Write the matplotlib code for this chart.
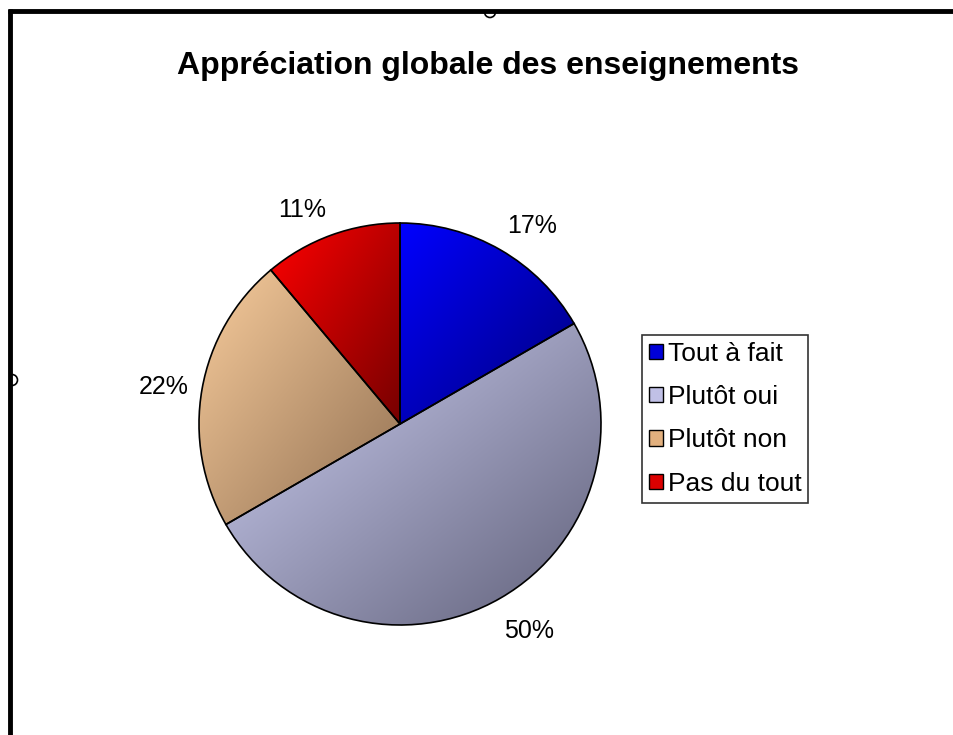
import numpy as np
import matplotlib.pyplot as plt
from matplotlib.patches import Patch, Arc
from matplotlib.colors import to_rgb

categories = ['Tout à fait', 'Plutôt oui', 'Plutôt non', 'Pas du tout']
counts = [3, 9, 4, 2]
light_colors = ['#0000ff', '#d0d2f6', '#f8cc9c', '#ff0000']
dark_colors = ['#00007a', '#606079', '#917052', '#760000']
legend_colors = ['#0000d8', '#c0c0e6', '#e2b07e', '#dc0000']
title = 'Appréciation globale des enseignements'

plt.rcParams['font.family'] = ['Liberation Sans', 'DejaVu Sans']

W, H = 954, 735
fig = plt.figure(figsize=(W / 100, H / 100), dpi=100)
ax = fig.add_axes([0, 0, 1, 1])

cx, cy, r = 400, H - 424, 201


def gradient_fill(ax, wedge, c1, c2, n=200):
    # diagonal gradient, light top-left to dark bottom-right, clipped to the wedge
    ext = wedge.get_path().get_extents()
    u = np.linspace(0, 1, n)
    t = (u[None, :] + u[:, None]) / 2
    a, b = np.array(to_rgb(c1)), np.array(to_rgb(c2))
    img = a + (b - a) * t[..., None]
    im = ax.imshow(img, extent=[ext.x0, ext.x1, ext.y0, ext.y1], origin='upper',
                   interpolation='bilinear', zorder=1)
    im.set_clip_path(wedge)


wedges, texts, autotexts = ax.pie(
    counts, center=(cx, cy), radius=r, startangle=90, counterclock=False,
    colors=light_colors, autopct='%1.0f%%', pctdistance=1.0,
    wedgeprops=dict(edgecolor='black', linewidth=1.2, zorder=2, fill=False),
    textprops=dict(fontsize=18, color='black'))

# Excel style labels: anchored just outside the rim, aligned away from the pie
for w, t in zip(wedges, autotexts):
    ang = np.deg2rad((w.theta1 + w.theta2) / 2)
    c, s = np.cos(ang), np.sin(ang)
    d = r + (24 if s < -0.5 else 14)
    t.set_position((cx + d * c - (8 if s < -0.5 else 0), cy + d * s))
    t.set_ha('left' if c > 0 else 'right')
    t.set_va('center' if abs(s) < 0.5 else ('bottom' if s > 0 else 'top'))

for w, c1, c2 in zip(wedges, light_colors, dark_colors):
    gradient_fill(ax, w, c1, c2)

# frame lines and selection handles like the original screenshot
ax.plot([8, W], [H - 11, H - 11], color='black', lw=3.5, solid_capstyle='butt', zorder=5)
ax.plot([10, 10], [0, H - 9], color='black', lw=3.5, solid_capstyle='butt', zorder=5)
ax.add_patch(Arc((490, H - 12), 11, 11, theta1=180, theta2=360, color='black', lw=1.2, zorder=6))
ax.add_patch(Arc((12, H - 380), 11, 11, theta1=-90, theta2=90, color='black', lw=1.2, zorder=6))

fig.text(488 / W, 1 - 66 / H, title, ha='center', va='center',
         fontsize=23, fontweight='bold')

handles = [Patch(facecolor=c, edgecolor='black', linewidth=1) for c in legend_colors]
leg = ax.legend(handles, categories, loc='upper left',
                bbox_to_anchor=(642 / W, 1 - 335 / H), fontsize=19,
                handlelength=0.52, handleheight=0.52, handletextpad=0.2,
                labelspacing=0.73, borderpad=0.26, borderaxespad=0,
                frameon=True, fancybox=False, edgecolor='black')
leg.get_frame().set_linewidth(1.2)

ax.set_xlim(0, W)
ax.set_ylim(0, H)
ax.set_aspect('equal')
ax.axis('off')

fig.savefig('out.png', dpi=100)
